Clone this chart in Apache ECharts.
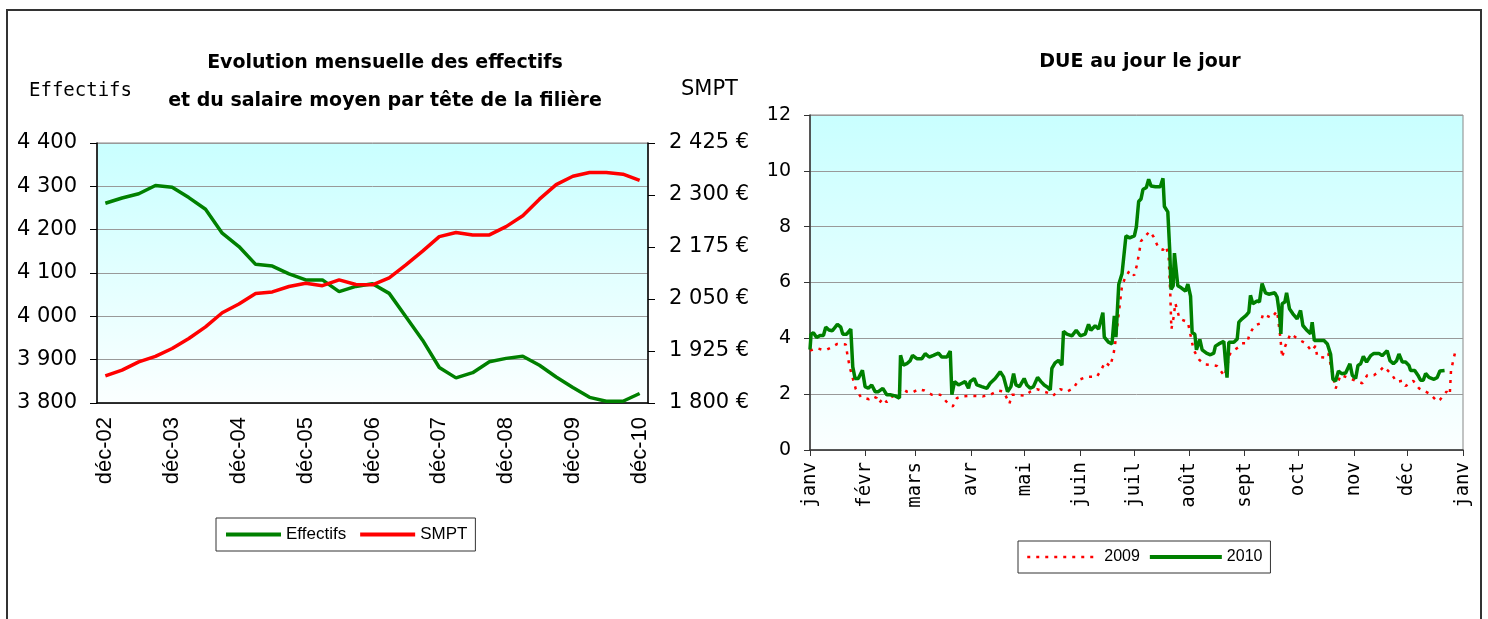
<!DOCTYPE html>
<html>
<head>
<meta charset="utf-8">
<script src="https://cdn.jsdelivr.net/npm/echarts@6/dist/echarts.min.js"></script>
<style>
  html, body { margin: 0; padding: 0; background: #fff; }
  #main { width: 1488px; height: 619px; }
  #frame { position: absolute; left: 6px; top: 9px; width: 1472px; height: 700px;
           border: 2px solid #333; pointer-events: none; }
</style>
</head>
<body>
<div id="main"></div>
<div id="frame"></div>
<script>
// graphique de gauche : trimestres
var quarters = ['déc-02','mars-03','juin-03','sept-03','déc-03','mars-04','juin-04','sept-04',
  'déc-04','mars-05','juin-05','sept-05','déc-05','mars-06','juin-06','sept-06',
  'déc-06','mars-07','juin-07','sept-07','déc-07','mars-08','juin-08','sept-08',
  'déc-08','mars-09','juin-09','sept-09','déc-09','mars-10','juin-10','sept-10','déc-10'];
var effectifs = [4261,4273,4283,4302,4298,4274,4247,4192,4161,4120,4116,4098,4084,4084,4057,4069,
  4075,4053,3999,3945,3882,3858,3870,3895,3903,3908,3887,3860,3836,3813,3804,3804,3822];
var smpt = [1865,1879,1899,1912,1931,1955,1983,2017,2038,2063,2067,2080,2088,2082,2096,2085,
  2084,2101,2132,2165,2200,2210,2204,2204,2224,2250,2290,2325,2345,2354,2354,2350,2335];
var smptTicks = [1800,1925,2050,2175,2300,2425];

// graphique de droite : jour de l'année
var monthDays = [0,31,59,90,120,151,181,212,243,273,304,334,365];
var monthNames = ['janv','févr','mars','avr','mai','juin','juil','août','sept','oct','nov','déc','janv'];

var days2010 = [0,0.6,1.9,3.7,5.6,7.5,8.8,10.6,12.5,15.3,17.2,18.3,20.5,22.8,23.9,25.2,27,29.3,30.8,32.6,
  34.5,36.4,38.2,40.7,42.9,44.8,47.6,50,50.6,52.2,54.1,55.9,57.3,59.7,62.5,64.4,66.6,69,71.8,73.7,
  76.5,78.4,79.3,80.8,83,84.9,86.7,88.6,89.5,91.8,93.3,96,98.9,100.7,103.5,106.3,108.2,110.4,112.3,113.8,
  115.1,117.1,119.7,121.2,123.1,124.9,127.2,129.1,130.9,132.8,134.3,135.2,137,138.9,140.8,141.7,143.6,146.4,148.8,151.1,
  153.8,155.7,157,159.4,161.3,163.7,164.5,166.9,168.8,170.1,171,172.6,174.4,175.3,176.6,178.7,181.3,182.4,183.7,185,
  186.1,188,189.3,190.6,193.1,195.8,197.3,198.1,200,201.1,201.8,203,203.7,204.6,205.6,207.5,209.9,211.2,212.7,213.6,
  215.1,216,217.9,219.2,221.6,223.8,225.7,226.6,228.5,231.3,232.2,233.1,234.1,236.9,238.8,239.7,241.5,243.8,245.3,246.2,
  247.5,249.9,251.2,252.7,254.6,256.4,257.4,259.8,261.1,262.4,263.2,263.9,265.4,266.4,268,269.9,272.3,274.2,275.5,277.9,
  279.8,280.7,281.9,284.5,287.3,289.2,291,292.3,293.8,295.4,297.2,299.4,301.8,303.1,305,306.3,307.8,309.3,311.1,313.4,
  315.2,318,319.8,322.6,324.2,326.1,327.9,329.2,331.1,332.9,334.8,335.7,338,339.8,341.3,342.8,344.1,346,348.8,350.6,
  352.1,354.7];
var due2010 = [3.6,4.15,4.2,4.03,4.1,4.1,4.4,4.3,4.27,4.5,4.4,4.15,4.15,4.33,2.98,2.56,2.56,2.86,2.27,2.21,
  2.33,2.09,2.09,2.21,1.98,1.98,1.94,1.86,3.39,3.04,3.09,3.19,3.39,3.27,3.27,3.45,3.33,3.39,3.47,3.33,
  3.33,3.54,1.98,2.45,2.33,2.39,2.45,2.21,2.45,2.56,2.33,2.27,2.21,2.39,2.56,2.8,2.62,2.09,2.27,2.74,
  2.33,2.27,2.56,2.33,2.21,2.27,2.6,2.45,2.33,2.25,2.15,2.92,3.12,3.21,3.04,4.25,4.15,4.09,4.29,4.09,
  4.15,4.5,4.29,4.45,4.33,4.92,4.04,3.86,3.8,4.8,4.04,5.94,6.31,6.37,7.67,7.6,7.67,7.98,8.9,8.99,
  9.33,9.4,9.7,9.46,9.43,9.43,9.73,8.72,8.53,7.11,5.75,5.88,7.05,7.11,5.88,5.81,5.69,5.94,5.51,4.21,
  4.15,3.59,3.96,3.59,3.47,3.41,3.47,3.72,3.8,3.89,3.19,2.59,3.86,3.86,3.98,4.58,4.7,4.82,4.94,5.54,
  5.24,5.34,5.3,5.96,5.63,5.58,5.51,5.63,5.48,4.88,4.16,5.24,5.3,5.63,5.06,4.88,4.7,5.0,4.46,4.28,
  4.16,4.58,3.92,3.92,3.92,3.8,3.43,2.53,2.47,2.83,2.73,2.76,3.09,2.68,2.56,3.03,3.09,3.35,3.15,3.38,
  3.46,3.46,3.38,3.56,3.2,3.09,3.2,3.44,3.15,3.15,3.03,2.85,2.85,2.68,2.5,2.5,2.74,2.6,2.53,2.6,
  2.83,2.85];

var days2009 = [0,3.7,6.5,9.3,12.1,15.3,20,21.1,22.4,25.6,28.5,30.8,33,35.4,37.3,38.6,41,42.9,45.3,48.5,
  51.3,54.1,57.3,60.6,64,68.1,72.8,77,79.8,82.1,84.9,89.5,96.6,100.7,105.4,108.2,110,111.5,112.8,115.6,
  120.3,123.1,126.8,133.3,135.8,139.9,143.6,147.3,150.1,154.7,160.3,162.8,165,167.8,169.7,170.6,174.4,176.3,178.7,181.2,
  182.8,184.1,185,186.5,189.9,192.1,194.8,197.3,199.1,200.5,201.4,202,203.3,204.2,206.6,211.2,214.4,217.7,221,224.7,
  227.5,231.7,235,239.3,241.5,244.3,245.7,248.6,251.8,253.3,255,258,261.1,263,263.9,265.5,268.6,274.2,277,280.3,
  282.6,283.5,288.2,289.7,293.8,296.6,308.7,311.5,315.2,318,320.8,325.4,327.9,331.1,332.9,337.2,340.4,344.1,346.5,350.6,
  352.1,355.8,357.6,358.3,360.8];
var due2009 = [3.56,3.65,3.6,3.59,3.68,3.8,3.78,3.33,2.92,2.18,1.89,1.86,1.82,1.92,1.86,1.68,1.86,1.71,1.89,2.01,
  2.21,2.09,2.06,2.18,2.13,1.98,1.98,1.68,1.56,1.86,1.92,1.94,1.92,1.98,2.13,2.09,1.86,1.66,1.98,1.98,
  1.94,2.09,2.18,2.04,1.94,2.18,2.09,2.21,2.51,2.62,2.62,2.88,3.15,3.0,3.45,3.82,5.88,6.19,6.43,6.25,
  6.64,7.11,7.48,7.6,7.83,7.63,7.23,7.17,7.3,6.89,5.57,4.33,4.77,5.26,4.7,4.58,3.59,3.22,3.06,3.04,
  3.01,2.65,3.49,3.67,3.82,3.82,4.16,4.46,4.54,4.88,4.82,4.73,4.98,3.98,3.31,3.7,4.16,3.92,3.82,3.55,
  3.73,3.34,3.31,3.46,2.2,2.69,2.39,2.68,2.68,2.8,2.99,2.68,2.44,2.48,2.29,2.48,2.21,2.09,2.01,1.74,
  1.8,2.09,1.98,2.85,3.56];

function pairs(xs, ys) {
    var out = [];
    for (var i = 0; i < xs.length; i++) out.push([xs[i], ys[i]]);
    return out;
}

function espace(v) {
    return String(v).replace(/\B(?=(\d{3})+(?!\d))/g, ' ');
}

var plotBg = {
    type: 'linear', x: 0, y: 0, x2: 0, y2: 1,
    colorStops: [{offset: 0, color: '#c9ffff'}, {offset: 1, color: '#fbffff'}]
};

var chart = echarts.init(document.getElementById('main'));

var option = {
    animation: false,
    title: [
        {
            text: 'Evolution mensuelle des effectifs\net du salaire moyen par tête de la filière',
            left: 380, top: 39, textAlign: 'center',
            textStyle: {fontFamily: 'DejaVu Sans', fontSize: 19, fontWeight: 'bold', lineHeight: 38, color: '#000'}
        },
        {
            text: 'Effectifs', left: 24, top: 77,
            textStyle: {fontFamily: 'DejaVu Sans Mono', fontSize: 19, fontWeight: 'normal', color: '#000'}
        },
        {
            text: 'SMPT', left: 676, top: 74,
            textStyle: {fontFamily: 'DejaVu Sans', fontSize: 21, fontWeight: 'normal', color: '#000'}
        },
        {
            text: 'DUE au jour le jour', left: 1135, top: 48, textAlign: 'center',
            textStyle: {fontFamily: 'DejaVu Sans', fontSize: 19, fontWeight: 'bold', color: '#000'}
        }
    ],
    legend: [
        {
            data: [
                {name: 'Effectifs', lineStyle: {width: 4}},
                {name: 'SMPT', lineStyle: {width: 4}}
            ],
            left: 216, top: 518,
            padding: [8, 8, 8, 8],
            borderColor: '#333', borderWidth: 1,
            itemWidth: 55, itemHeight: 2, itemGap: 12,
            itemStyle: {opacity: 0},
            textStyle: {fontFamily: 'Liberation Sans', fontSize: 17, color: '#000'}
        },
        {
            data: [
                {name: '2009', lineStyle: {width: 2.5}},
                {name: '2010', lineStyle: {width: 4}}
            ],
            left: 1018, top: 541,
            padding: [8, 8, 8, 8],
            borderColor: '#333', borderWidth: 1,
            itemWidth: 72, itemHeight: 2, itemGap: 8,
            itemStyle: {opacity: 0},
            textStyle: {fontFamily: 'Liberation Sans', fontSize: 16, color: '#000'}
        }
    ],
    grid: [
        {left: 97, top: 143, width: 551, height: 260, show: true,
         backgroundColor: plotBg, borderColor: '#888', borderWidth: 1},
        {left: 810, top: 115, width: 653, height: 335, show: true,
         backgroundColor: plotBg, borderColor: '#888', borderWidth: 1}
    ],
    xAxis: [
        {
            type: 'category', gridIndex: 0, data: quarters, boundaryGap: true,
            axisLine: {lineStyle: {color: '#000', width: 1.5}},
            axisTick: {interval: 3, length: 7, lineStyle: {color: '#000'}},
            axisLabel: {interval: 3, rotate: 90, margin: 14, color: '#000',
                        fontFamily: 'Liberation Sans', fontSize: 22},
            splitLine: {show: false}
        },
        {
            type: 'value', gridIndex: 1, min: 0, max: 365,
            axisLine: {lineStyle: {color: '#333', width: 1.5}},
            axisTick: {customValues: monthDays, length: 6, lineStyle: {color: '#333'}},
            axisLabel: {customValues: monthDays, rotate: 90, margin: 12, color: '#000',
                        fontFamily: 'DejaVu Sans Mono', fontSize: 19,
                        formatter: function (v) { return monthNames[monthDays.indexOf(v)]; }},
            splitLine: {show: false}
        }
    ],
    yAxis: [
        {
            type: 'value', gridIndex: 0, min: 3800, max: 4400, interval: 100,
            axisLine: {show: true, lineStyle: {color: '#000', width: 1.5}},
            axisTick: {show: true, length: 7, lineStyle: {color: '#000'}},
            axisLabel: {margin: 20, color: '#000', fontFamily: 'DejaVu Sans', fontSize: 21,
                        formatter: function (v) { return espace(v); }},
            splitLine: {lineStyle: {color: '#999', width: 1}}
        },
        {
            type: 'value', gridIndex: 0, position: 'right', min: 1800, max: 2425,
            axisLine: {show: true, lineStyle: {color: '#000', width: 1.5}},
            axisTick: {show: true, customValues: smptTicks, length: 7, lineStyle: {color: '#000'}},
            axisLabel: {customValues: smptTicks, margin: 21, color: '#000', fontFamily: 'DejaVu Sans', fontSize: 21,
                        formatter: function (v) { return espace(v) + ' €'; }},
            splitLine: {show: false}
        },
        {
            type: 'value', gridIndex: 1, min: 0, max: 12, interval: 2,
            axisLine: {show: true, lineStyle: {color: '#333', width: 1.5}},
            axisTick: {show: true, length: 6, lineStyle: {color: '#333'}},
            axisLabel: {margin: 19, color: '#000', fontFamily: 'DejaVu Sans', fontSize: 19},
            splitLine: {lineStyle: {color: '#999', width: 1}}
        }
    ],
    series: [
        {
            name: 'Effectifs', type: 'line', xAxisIndex: 0, yAxisIndex: 0,
            data: effectifs, symbol: 'none',
            lineStyle: {color: '#008000', width: 3.5}, itemStyle: {color: '#008000'}
        },
        {
            name: 'SMPT', type: 'line', xAxisIndex: 0, yAxisIndex: 1,
            data: smpt, symbol: 'none',
            lineStyle: {color: '#ff0000', width: 3.5}, itemStyle: {color: '#ff0000'}
        },
        {
            name: '2009', type: 'line', xAxisIndex: 1, yAxisIndex: 2,
            data: pairs(days2009, due2009), symbol: 'none',
            lineStyle: {color: '#ff0000', width: 2.5, type: [3, 6]}, itemStyle: {color: '#ff0000'}
        },
        {
            name: '2010', type: 'line', xAxisIndex: 1, yAxisIndex: 2,
            data: pairs(days2010, due2010), symbol: 'none',
            lineStyle: {color: '#008000', width: 3.5}, itemStyle: {color: '#008000'}
        }
    ]
};

chart.setOption(option);
</script>
</body>
</html>
